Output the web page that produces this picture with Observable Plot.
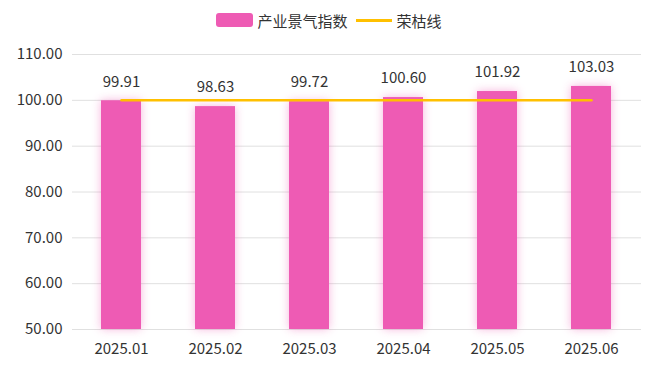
<!DOCTYPE html>
<html><head><meta charset="utf-8">
<script src="https://cdn.jsdelivr.net/npm/d3@7"></script>
<script src="https://cdn.jsdelivr.net/npm/@observablehq/plot@0.6"></script>
<style>
body{margin:0;background:#fff;font-family:"Noto Sans CJK SC","Noto Sans",sans-serif;color:#333;}
#legend{height:40px;display:flex;align-items:center;justify-content:center;font-size:15px;color:#333;}
.sw{display:inline-block;width:37px;height:14px;background:#EE5BB4;border-radius:3px;margin-right:4px;}
.ln{display:inline-block;width:36px;height:3px;background:#FFC000;margin:0 5px 0 8px;}
</style></head>
<body>
<div id="legend"><span class="sw"></span><span>产业景气指数</span><span class="ln"></span><span>荣枯线</span></div>
<div id="chart"></div>
<script>
const months = ["2025.01","2025.02","2025.03","2025.04","2025.05","2025.06"];
const values = [99.91, 98.63, 99.72, 100.60, 101.92, 103.03];
const threshold = 100;
const yTicks = [50,60,70,80,90,100,110];

const data = months.map((m,i)=>({month:m, value:values[i]}));

const chart = Plot.plot({
  width: 658, height: 330,
  marginLeft: 72, marginRight: 17, marginTop: 14, marginBottom: 41,
  style:{fontFamily:'"Noto Sans CJK SC","Noto Sans",sans-serif', fontSize:"14px", color:"#333", background:"#fff"},
  x:{domain:months, paddingInner:0.57, paddingOuter:0.285, label:null, tickSize:0, tickPadding:14},
  y:{domain:[50,110], ticks:yTicks, tickFormat:d3.format(".2f"), label:null, tickSize:0, tickPadding:10},
  marks:[
    Plot.ruleY(yTicks,{stroke:"#e0e0e0", strokeWidth:1}),
    Plot.barY(data,{x:"month", y1:50, y2:"value", fill:"#EE5BB4"}),
    Plot.lineY(months,{x:d=>d, y:()=>threshold, stroke:"#FFC000", strokeWidth:2.5}),
    Plot.text(data,{x:"month", y:"value", text:d=>d3.format(".2f")(d.value), dy:-19, fontSize:15, fill:"#333"})
  ]
});
chart.querySelectorAll('g[aria-label="bar"]').forEach(g=>g.style.filter="drop-shadow(0 0 5px rgba(238,91,180,0.45))");
chart.querySelectorAll('g[aria-label="x-axis tick label"], g[aria-label="y-axis tick label"]').forEach(g=>g.setAttribute("font-size","15"));
document.getElementById("chart").appendChild(chart);
</script>
</body></html>
